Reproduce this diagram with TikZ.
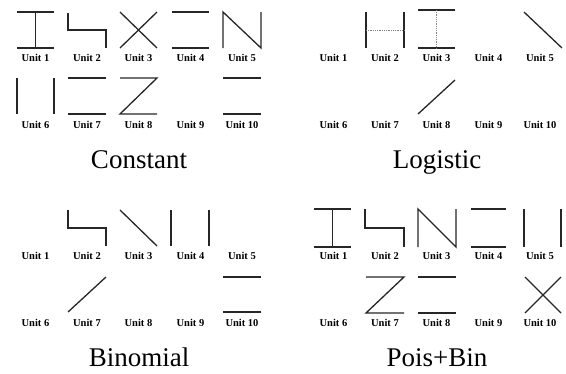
\documentclass[tikz,border=0pt]{standalone}
\usepackage{fontspec}
\setmainfont{Liberation Serif}
\usetikzlibrary{positioning}

\begin{document}
\begin{tikzpicture}[x=1pt, y=-1pt,
    lbl/.style={font=\fontsize{10.5}{12}\selectfont\bfseries, inner sep=0pt},
    ttl/.style={font=\fontsize{27}{30}\selectfont, anchor=base, inner sep=0pt},
    glyph/.style={line width=1.3pt, black!85},
    faint/.style={line width=0.8pt, densely dotted, black!50}
]
\useasboundingbox (0,0) rectangle (566,373);

% ===== CONSTANT (top left) =====
\begin{scope}
\node[lbl] (cu1) at (35.5,58) {Unit 1};
\node[lbl] (cu2) at (87,58) {Unit 2};
\node[lbl] (cu3) at (138.5,58) {Unit 3};
\node[lbl] (cu4) at (190.5,58) {Unit 4};
\node[lbl] (cu5) at (242,58) {Unit 5};
\node[lbl] (cu6) at (35.5,125) {Unit 6};
\node[lbl] (cu7) at (87,125) {Unit 7};
\node[lbl] (cu8) at (138.5,125) {Unit 8};
\node[lbl] (cu9) at (190.5,125) {Unit 9};
\node[lbl] (cu10) at (242,125) {Unit 10};
\node[ttl] (con) at (139,168) {Constant};
\draw[glyph] (17,12)--(54,12) (35.5,12)--(35.5,48) (17,48)--(54,48);
\draw[glyph] (68,13)--(68,30)--(106,30)--(106,48);
\draw[glyph] (120,12)--(157,48) (157,12)--(120,48);
\draw[glyph] (172,12)--(209,12) (172,48)--(209,48);
\draw[glyph] (223,48)--(223,12)--(261,48)--(261,12);
\draw[glyph] (17,78)--(17,114) (54,78)--(54,114);
\draw[glyph] (68,78)--(106,78) (68,114)--(106,114);
\draw[glyph] (120,78)--(157,78)--(120,114)--(157,114);
\draw[glyph] (223,78)--(261,78) (223,114)--(261,114);
\end{scope}

% ===== LOGISTIC (top right) =====
\begin{scope}[shift={(298,0)}]
\node[lbl] (lu1) at (35.5,58) {Unit 1};
\node[lbl] (lu2) at (87,58) {Unit 2};
\node[lbl] (lu3) at (138.5,58) {Unit 3};
\node[lbl] (lu4) at (190.5,58) {Unit 4};
\node[lbl] (lu5) at (242,58) {Unit 5};
\node[lbl] (lu6) at (35.5,125) {Unit 6};
\node[lbl] (lu7) at (87,125) {Unit 7};
\node[lbl] (lu8) at (138.5,125) {Unit 8};
\node[lbl] (lu9) at (190.5,125) {Unit 9};
\node[lbl] (lu10) at (242,125) {Unit 10};
\node[ttl] (logi) at (139,168) {Logistic};
\draw[glyph] (68,12)--(68,48) (106,12)--(106,48);
\draw[faint] (68,30)--(106,30);
\draw[glyph] (120,10)--(157,10) (120,48)--(157,48);
\draw[faint] (138.5,10)--(138.5,48);
\draw[glyph] (226,12)--(264,48);
\draw[glyph] (120,114)--(157,80);
\end{scope}

% ===== BINOMIAL (bottom left) =====
\begin{scope}[shift={(0,198)}]
\node[lbl] (bu1) at (35.5,58) {Unit 1};
\node[lbl] (bu2) at (87,58) {Unit 2};
\node[lbl] (bu3) at (138.5,58) {Unit 3};
\node[lbl] (bu4) at (190.5,58) {Unit 4};
\node[lbl] (bu5) at (242,58) {Unit 5};
\node[lbl] (bu6) at (35.5,125) {Unit 6};
\node[lbl] (bu7) at (87,125) {Unit 7};
\node[lbl] (bu8) at (138.5,125) {Unit 8};
\node[lbl] (bu9) at (190.5,125) {Unit 9};
\node[lbl] (bu10) at (242,125) {Unit 10};
\node[ttl] (bin) at (139,168) {Binomial};
\draw[glyph] (68,12)--(68,30)--(106,30)--(106,48);
\draw[glyph] (120,12)--(157,48);
\draw[glyph] (171,12)--(171,48) (209,12)--(209,48);
\draw[glyph] (68,114)--(106,79);
\draw[glyph] (223,79)--(261,79) (223,114)--(261,114);
\end{scope}

% ===== POIS+BIN (bottom right) =====
\begin{scope}[shift={(298,198)}]
\node[lbl] (pu1) at (35.5,58) {Unit 1};
\node[lbl] (pu2) at (87,58) {Unit 2};
\node[lbl] (pu3) at (138.5,58) {Unit 3};
\node[lbl] (pu4) at (190.5,58) {Unit 4};
\node[lbl] (pu5) at (242,58) {Unit 5};
\node[lbl] (pu6) at (35.5,125) {Unit 6};
\node[lbl] (pu7) at (87,125) {Unit 7};
\node[lbl] (pu8) at (138.5,125) {Unit 8};
\node[lbl] (pu9) at (190.5,125) {Unit 9};
\node[lbl] (pu10) at (242,125) {Unit 10};
\node[ttl] (pb) at (139,168) {Pois+Bin};
\draw[glyph] (16,11)--(53,11) (34.5,11)--(34.5,49) (16,49)--(53,49);
\draw[glyph] (67,11)--(67,30)--(106,30)--(106,49);
\draw[glyph] (120,49)--(120,11)--(158,49)--(158,11);
\draw[glyph] (173,11)--(208,11) (173,49)--(208,49);
\draw[glyph] (226,11)--(226,49) (263,11)--(263,49);
\draw[glyph] (68,79)--(106,79)--(68,115)--(106,115);
\draw[glyph] (120,79)--(158,79) (120,115)--(158,115);
\draw[glyph] (227,79)--(263,115) (263,79)--(227,115);
\end{scope}
\end{tikzpicture}
\end{document}
